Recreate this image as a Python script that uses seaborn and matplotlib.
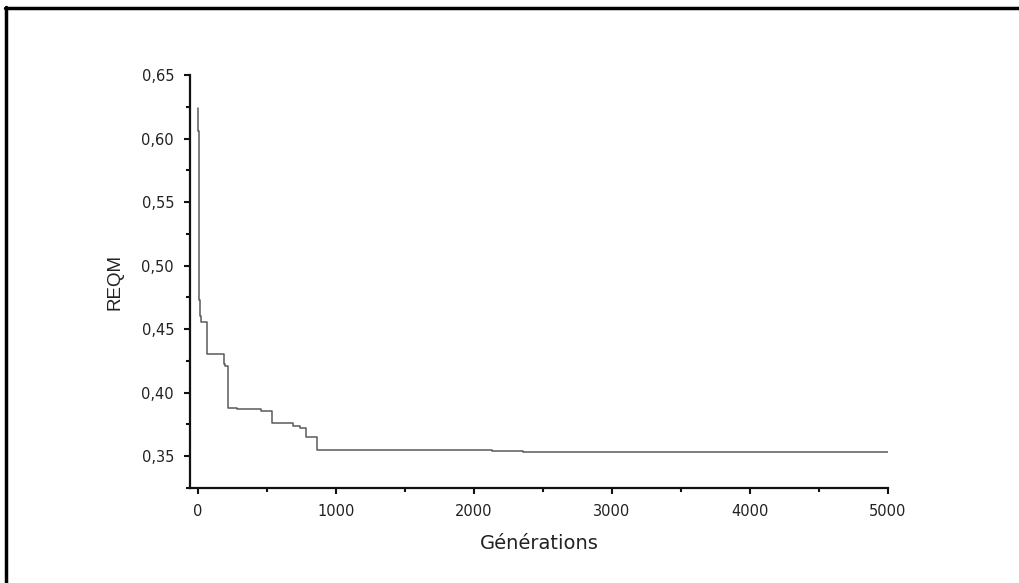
import matplotlib
matplotlib.use("Agg")
import matplotlib.pyplot as plt
from matplotlib.lines import Line2D
from matplotlib.ticker import MultipleLocator, FuncFormatter
import seaborn as sns
import pandas as pd

# Data (generation at which RMSE changes, value held until next change)
generations = [0, 5, 10, 15, 25, 68, 188, 200, 222, 285, 461, 539, 691, 744, 783, 867, 2130, 2360, 5000]
reqm = [0.6238, 0.6062, 0.4731, 0.4600, 0.4560, 0.4304, 0.4228, 0.4207, 0.3880, 0.3872,
        0.3858, 0.3762, 0.3741, 0.3720, 0.3654, 0.3552, 0.3540, 0.3532, 0.3532]

x_ticks = [0, 1000, 2000, 3000, 4000, 5000]
y_ticks = [0.35, 0.40, 0.45, 0.50, 0.55, 0.60, 0.65]

sns.set_style("ticks")
plt.rcParams['font.family'] = ['DejaVu Sans']

fig = plt.figure(figsize=(10.19, 5.83), dpi=100)
ax = fig.add_axes([190/1019, 1 - 488/583, (888-190)/1019, (488-75)/583])

df = pd.DataFrame({"Générations": generations, "REQM": reqm})
sns.lineplot(data=df, x="Générations", y="REQM", ax=ax, color="#5a5a5a",
             linewidth=1.1, drawstyle="steps-post")

ax.set_xlim(-55, 5000)
ax.set_ylim(0.325, 0.65)
ax.set_xticks(x_ticks)
ax.set_yticks(y_ticks)
ax.xaxis.set_minor_locator(MultipleLocator(500))
ax.yaxis.set_minor_locator(MultipleLocator(0.025))
ax.yaxis.set_major_formatter(FuncFormatter(lambda v, p: f"{v:.2f}".replace(".", ",")))
ax.xaxis.set_major_formatter(FuncFormatter(lambda v, p: f"{int(round(v))}"))

for s in ["top", "right"]:
    ax.spines[s].set_visible(False)
for s in ["left", "bottom"]:
    ax.spines[s].set_linewidth(1.6)
    ax.spines[s].set_color("#111111")

ax.tick_params(axis="both", which="major", direction="out", length=4.5, width=1.5,
               colors="#111111", labelcolor="#222222", labelsize=10.5)
ax.tick_params(axis="both", which="minor", direction="out", length=3, width=1.5, colors="#111111")
ax.tick_params(axis="y", which="major", pad=7)
ax.tick_params(axis="x", which="major", pad=7)

ax.set_xlabel("Générations", fontsize=14, color="#222222", labelpad=11)
ax.set_ylabel("REQM", fontsize=13.5, color="#222222", labelpad=13,
              family=['Liberation Sans', 'DejaVu Sans'])

# Outer frame (top and left edges)
fig.add_artist(Line2D([5/1019, 1], [1 - 8/583, 1 - 8/583], transform=fig.transFigure,
                      color="black", linewidth=2.5))
fig.add_artist(Line2D([6/1019, 6/1019], [0, 1 - 7/583], transform=fig.transFigure,
                      color="black", linewidth=2.5))

fig.savefig("out.png", dpi=100)
